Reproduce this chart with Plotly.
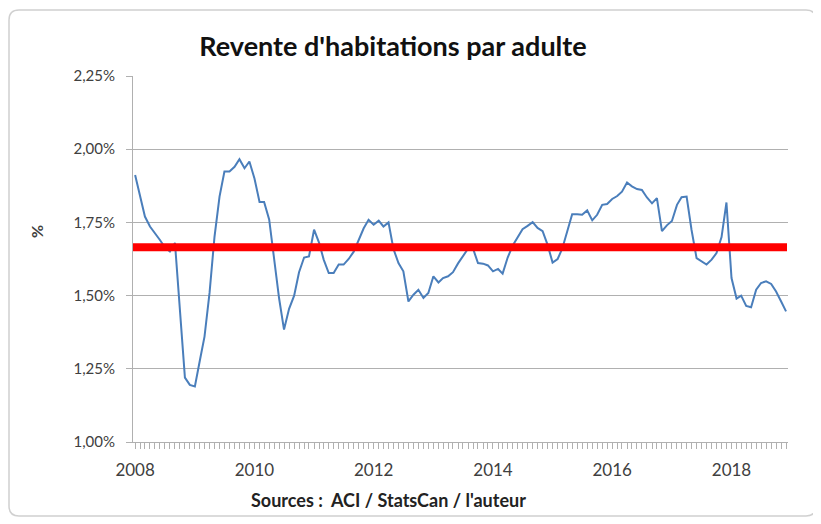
import pandas as pd
import plotly.graph_objects as go

# ---- data -------------------------------------------------------------
start_month = "2008-01-01"
n_months = 132
resale_pct = [
    1.912, 1.84, 1.77, 1.736, 1.715, 1.69, 1.665, 1.651, 1.68, 1.45,   # 2008
    1.22, 1.195,
    1.19, 1.28, 1.36, 1.51, 1.70, 1.838, 1.924, 1.924, 1.94, 1.966,     # 2009
    1.935, 1.958,
    1.90, 1.82, 1.82, 1.76, 1.62, 1.49, 1.384, 1.455, 1.50, 1.58,       # 2010
    1.63, 1.634,
    1.725, 1.68, 1.623, 1.577, 1.577, 1.606, 1.606, 1.625, 1.65, 1.69,  # 2011
    1.73, 1.759,
    1.742, 1.756, 1.736, 1.75, 1.66, 1.611, 1.583, 1.48, 1.503, 1.52,   # 2012
    1.492, 1.509,
    1.566, 1.545, 1.56, 1.566, 1.58, 1.61, 1.635, 1.66, 1.66, 1.611,    # 2013
    1.609, 1.603,
    1.583, 1.591, 1.575, 1.63, 1.67, 1.70, 1.727, 1.738, 1.751, 1.731,  # 2014
    1.72, 1.674,
    1.613, 1.625, 1.66, 1.72, 1.778, 1.778, 1.776, 1.791, 1.757, 1.776, # 2015
    1.81, 1.813,
    1.83, 1.84, 1.855, 1.886, 1.873, 1.864, 1.861, 1.835, 1.815, 1.833, # 2016
    1.72, 1.74,
    1.755, 1.81, 1.836, 1.838, 1.725, 1.628, 1.617, 1.606, 1.623, 1.645, # 2017
    1.70, 1.818,
    1.56, 1.49, 1.50, 1.465, 1.46, 1.52, 1.543, 1.549, 1.540, 1.514,    # 2018
    1.48, 1.446,
]
average_pct = 1.665

y_ticks = [1.00, 1.25, 1.50, 1.75, 2.00, 2.25]
y_tick_labels = ["1,00%", "1,25%", "1,50%", "1,75%", "2,00%", "2,25%"]

title_text = "Revente d'habitations par adulte"
source_text = "Sources :  ACI / StatsCan / l'auteur"
y_title = "%"

# ---- figure -----------------------------------------------------------
dates = pd.date_range(start_month, periods=n_months, freq="MS")

OFF = 8                      # page body margin
W, H = 821 - OFF, 524 - OFF
L = 133 - OFF
T = 76 - OFF
R = 821 - 788
B = H - (442 - OFF)
pw, ph = W - L - R, H - T - B


def px_x(p):
    """screen pixel x -> paper"""
    return (p - OFF - L) / pw


def px_y(p):
    """screen pixel y -> paper"""
    return (T + ph - (p - OFF)) / ph


fig = go.Figure()
fig.add_trace(go.Scatter(
    x=dates, y=resale_pct, mode="lines",
    line=dict(color="#4A7EBB", width=2),
    hoverinfo="x+y", showlegend=False,
))

grid = "#B0B0B0"
fig.update_layout(
    width=W, height=H,
    margin=dict(l=L, r=R, t=T, b=B, autoexpand=False),
    paper_bgcolor="white", plot_bgcolor="white",
    font=dict(family="Lato", color="#404040", size=17),
    title=dict(text=title_text, x=(393 - OFF) / W, xanchor="center",
               y=1 - (47 - OFF) / H, yanchor="middle",
               font=dict(family="Lato", size=27, color="#111111", weight="bold")),
    xaxis=dict(
        type="date",
        range=["2007-12-19", "2018-12-13"],
        tick0=start_month, dtick="M24", tickformat="%Y",
        ticks="outside", ticklen=6, tickcolor=grid,
        ticklabelstandoff=7,
        minor=dict(dtick="M1", ticks="outside", ticklen=6, tickcolor=grid, showgrid=False),
        showline=True, linecolor=grid, linewidth=1,
        showgrid=False, zeroline=False,
        tickfont=dict(size=17, color="#404040"),
    ),
    yaxis=dict(
        range=[1.0, 2.25],
        tickvals=y_ticks, ticktext=y_tick_labels,
        ticks="outside", ticklen=6, tickcolor=grid,
        ticklabelstandoff=8,
        showline=True, linecolor=grid, linewidth=1,
        showgrid=True, gridcolor=grid, gridwidth=1,
        zeroline=False,
        tickfont=dict(size=15, color="#404040"),
    ),
)

# average line
fig.add_shape(type="line", xref="paper", yref="y",
              x0=0, x1=px_x(787), y0=average_pct, y1=average_pct,
              line=dict(color="#FF0000", width=8), layer="above")

# rounded outer frame
x0, x1 = px_x(9), px_x(816)
y0, y1 = px_y(516), px_y(10)
rx, ry = 10 / pw, 10 / ph
path = (f"M {x0+rx},{y1} L {x1-rx},{y1} Q {x1},{y1} {x1},{y1-ry} "
        f"L {x1},{y0+ry} Q {x1},{y0} {x1-rx},{y0} "
        f"L {x0+rx},{y0} Q {x0},{y0} {x0},{y0+ry} "
        f"L {x0},{y1-ry} Q {x0},{y1} {x0+rx},{y1} Z")
fig.add_shape(type="path", xref="paper", yref="paper", path=path,
              line=dict(color="#D0D0D0", width=1.5), layer="below")

# y axis title
fig.add_annotation(text=y_title, xref="paper", yref="paper",
                   x=px_x(36), y=px_y(232), showarrow=False, textangle=-90,
                   xanchor="center", yanchor="middle",
                   font=dict(size=16, color="#404040", weight="bold"))

# sources
fig.add_annotation(text=source_text, xref="paper", yref="paper",
                   x=px_x(388), y=px_y(500), showarrow=False,
                   xanchor="center", yanchor="middle",
                   font=dict(size=18, color="#222222", weight="bold"))

fig.write_html("out.html")
